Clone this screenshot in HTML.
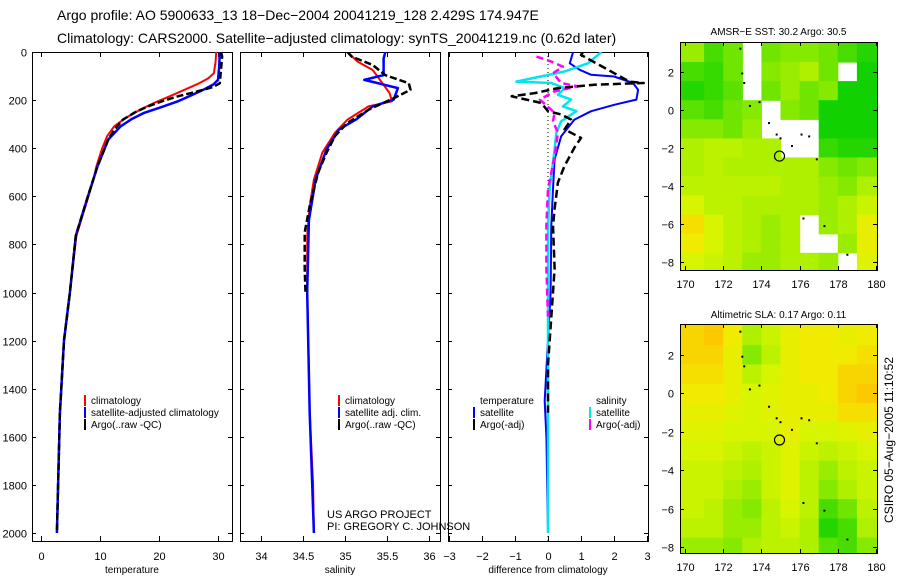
<!DOCTYPE html>
<html><head><meta charset="utf-8"><style>
body{margin:0;background:#fff;}
svg{display:block;font-family:"Liberation Sans",sans-serif;}
</style></head><body>
<svg id="fig" width="900" height="580" viewBox="0 0 900 580" xmlns="http://www.w3.org/2000/svg">
<text x="57" y="20" font-size="14">Argo profile: AO 5900633_13 18−Dec−2004 20041219_128 2.429S 174.947E</text>
<text x="57" y="43" font-size="14">Climatology: CARS2000. Satellite−adjusted climatology: synTS_20041219.nc (0.62d later)</text>
<text x="327" y="518" font-size="11">US ARGO PROJECT</text>
<text x="327" y="530" font-size="11">PI: GREGORY C. JOHNSON</text>
<text x="0" y="0" font-size="12" transform="translate(893,440) rotate(-90)" text-anchor="middle">CSIRO 05−Aug−2005 11:10:52</text>
</svg>
<script>
// ---- profile data ----
const tempClimDepth=[0,40,88,110,130,155,184,210,240,275,309,350,405,474,530,612,764,1000,1200,1500,1800,2000];
const tempClim=[29.7,29.6,29.3,28.3,26.8,24.5,21.8,19.3,16.8,14.3,12.4,11.2,10.3,9.4,8.9,7.9,6.0,4.9,3.9,3.2,2.9,2.7];
const tempSatDepth=[0,60,116,135,157,180,205,230,253,280,309,364,474,612,764,1000,1200,1500,1800,2000];
const tempSat=[30.3,30.2,30.0,29.2,27.5,25.5,23.2,20.3,17.5,15.3,13.5,11.4,9.6,7.8,5.9,4.9,3.9,3.2,2.9,2.7];
const tempArgoDepth=[0,19,130,145,157,170,184,205,226,250,281,320,364,474,612,764,1000,1200,1500,1800,2000];
const tempArgo=[30.5,30.7,30.3,29.2,27.5,25.5,23.2,20.5,18.1,16.0,13.9,12.5,11.4,9.6,7.8,5.9,4.9,3.9,3.2,2.9,2.7];

const salClimDepth=[0,40,75,170,205,226,281,336,419,530,640,764,1000,1500,1800,2000];
const salClim=[35.03,35.15,35.33,35.53,35.56,35.28,35.03,34.88,34.73,34.63,34.58,34.55,34.55,34.58,34.62,34.63];
const salSatDepth=[0,28,96,116,150,198,226,281,322,405,530,700,1000,1500,2000];
const salSat=[35.48,35.46,35.46,35.23,35.63,35.58,35.33,35.13,34.93,34.78,34.65,34.57,34.55,34.58,34.63];
const salArgoDepth=[0,19,54,96,130,157,192,240,295,350,419,502,640,750,900,1000];
const salArgo=[35.03,35.08,35.33,35.48,35.76,35.78,35.58,35.28,35.03,34.88,34.78,34.68,34.58,34.52,34.52,34.53];

const dTSatDepth=[0,47,74,95,102,129,157,198,219,246,281,350,446,570,722,1000,1200,1450,1600,2000];
const dTSat=[0.76,0.66,0.96,1.31,2.0,2.58,2.73,2.68,2.02,1.31,0.8,0.4,0.2,0.15,0.1,0.08,0.0,-0.1,-0.05,0.0];
const dTArgoDepth=[0,12,123,129,136,150,171,184,212,246,260,281,322,357,398,474,543,653,722,900,1000,1300,1500];
const dTArgo=[1.06,1.0,2.47,2.9,1.41,0.3,-0.4,-1.1,-0.2,0.0,0.4,0.7,0.5,1.0,0.8,0.5,0.3,0.2,0.15,0.2,0.15,0.0,0.0];
const dSSatDepth=[0,47,81,123,129,150,178,198,226,246,288,336,405,570,735,2000];
const dSSat=[1.62,1.21,0.5,-0.96,0.1,0.5,0.3,0.7,0.45,0.86,0.4,0.25,0.2,0.05,0.0,0.0];
const dSArgoDepth=[19,40,61,88,129,143,164,198,253,288,336,433,570,722,900,1100];
const dSArgo=[-0.35,0.1,0.45,0.15,0.4,0.9,0.2,-0.25,0.2,0.15,0.3,0.2,0.0,-0.05,-0.05,0.0];

const depthTicks=[0,200,400,600,800,1000,1200,1400,1600,1800,2000];
const tempTicks=[0,10,20,30];
const salTicks=[34,34.5,35,35.5,36];
const salTickLabels=["34","34.5","35","35.5","36"];
const diffTicks=[-3,-2,-1,0,1,2,3];

// ---- map data (rows from north to south, 1 degree cells, lon 170..180) ----
const sstGrid=[
[0.4,0.2,0.3,null,0.3,0.35,0.35,0.3,0.2,0.1],
[0.2,0.15,0.3,null,0.35,0.4,0.45,0.3,null,0.05],
[0.1,0.15,0.25,null,0.3,0.4,0.3,0.35,0.05,0.05],
[0.25,0.2,0.3,0.35,null,0.35,0.3,0.05,0.05,0.05],
[0.35,0.35,0.3,0.4,null,null,null,0.05,0.05,0.05],
[0.45,0.5,0.5,0.45,0.45,null,null,0.15,0.1,0.1],
[0.45,0.5,0.45,0.45,0.45,0.45,0.45,0.35,0.3,0.35],
[0.5,0.5,0.5,0.5,0.5,0.45,0.45,0.4,0.35,0.45],
[0.6,0.5,0.5,0.45,0.45,0.45,0.45,0.4,0.45,0.55],
[0.8,0.6,0.5,0.45,0.4,0.45,null,0.4,0.45,0.7],
[0.75,0.6,0.5,0.45,0.4,0.45,null,null,0.4,0.7],
[0.6,0.55,0.5,0.4,0.4,0.45,0.45,0.4,null,0.65]];
const slaGrid=[
[0.85,0.9,0.75,0.45,0.55,0.7,0.75,0.75,0.7,0.75],
[0.85,0.85,0.7,0.35,0.5,0.7,0.75,0.75,0.75,0.8],
[0.8,0.8,0.7,0.5,0.6,0.7,0.75,0.75,0.85,0.85],
[0.75,0.75,0.7,0.6,0.65,0.7,0.7,0.75,0.85,0.9],
[0.7,0.7,0.65,0.6,0.65,0.7,0.7,0.7,0.8,0.8],
[0.65,0.65,0.6,0.6,0.6,0.7,0.6,0.6,0.65,0.7],
[0.6,0.6,0.55,0.5,0.55,0.65,0.55,0.5,0.55,0.6],
[0.55,0.55,0.5,0.45,0.55,0.65,0.5,0.4,0.5,0.55],
[0.55,0.55,0.45,0.4,0.55,0.65,0.5,0.35,0.45,0.55],
[0.55,0.5,0.4,0.35,0.5,0.6,0.5,0.2,0.3,0.5],
[0.5,0.5,0.4,0.4,0.5,0.55,0.45,0.1,0.2,0.45],
[0.4,0.4,0.35,0.45,0.5,0.5,0.45,0.25,0.2,0.35]];
const latTicks=[2,0,-2,-4,-6,-8];
const lonTicks=[170,172,174,176,178,180];
const argoLon=174.947, argoLat=-2.429;
const islandLon=[172.9,173.0,173.1,173.4,173.9,174.4,174.8,175.0,175.6,176.1,176.5,176.9,176.2,177.3,178.5];
const islandLat=[3.2,1.9,1.4,0.2,0.4,-0.7,-1.3,-1.5,-1.9,-1.3,-1.4,-2.6,-5.7,-6.1,-7.6];

const NS="http://www.w3.org/2000/svg";
const svg=document.getElementById('fig');
function mk(tag,attrs,parent){const e=document.createElementNS(NS,tag);for(const k in attrs)e.setAttribute(k,attrs[k]);(parent||svg).appendChild(e);return e;}

const Y0=52,Y1=541;
function yD(d){return 52+0.2405*d;}

function panel(name,x0,x1,xs,xticks,xlabels,xtitle,showY){
  const g=mk('g',{});
  
  
  const clip=mk('clipPath',{id:'clip-'+name},g);
  mk('rect',{x:x0,y:Y0,width:x1-x0,height:Y1-Y0},clip);
  const fr=mk('rect',{x:x0+0.5,y:Y0+0.5,width:x1-x0,height:Y1-Y0,fill:'none',stroke:'#000','stroke-width':1},g);
  
  
  depthTicks.forEach(d=>{const y=Math.round(yD(d))+0.5;
    mk('line',{x1:x0,x2:x0+4,y1:y,y2:y,stroke:'#000'},g);mk('line',{x1:x1-4,x2:x1,y1:y,y2:y,stroke:'#000'},g);
    if(showY){const t=mk('text',{x:x0-5,y:y+4,'font-size':11,'text-anchor':'end'},g);t.textContent=d;
      
      }
  });
  xticks.forEach((v,i)=>{const x=Math.round(xs(v))+0.5;
    mk('line',{x1:x,x2:x,y1:Y0,y2:Y0+5,stroke:'#000'},g);mk('line',{x1:x,x2:x,y1:Y1-5,y2:Y1,stroke:'#000'},g);
    const t=mk('text',{x:x,y:560,'font-size':11,'text-anchor':'middle'},g);t.textContent=xlabels[i];
    
    
  });
  const tt=mk('text',{x:(x0+x1)/2,y:573,'font-size':10,'text-anchor':'middle'},g);tt.textContent=xtitle;
  
  
  return g;
}
function series(g,name,clipId,xs,depths,vals,color,w,dash){
  const pts=depths.map((d,i)=>xs(vals[i]).toFixed(1)+','+yD(d).toFixed(1)).join(' ');
  const p=mk('polyline',{points:pts,fill:'none',stroke:color,'stroke-width':w,'stroke-linejoin':'round','clip-path':'url(#'+clipId+')'},g);
  if(dash)p.setAttribute('stroke-dasharray',dash);
  
  
}
function legend(g,x,y,entries){
  entries.forEach((e,i)=>{const yy=y+i*12;
    mk('line',{x1:x,x2:x,y1:yy-9,y2:yy+2,stroke:e[1],'stroke-width':2},g);
    const t=mk('text',{x:x+6,y:yy,'font-size':10},g);t.textContent=e[0];
    
    
  });
}

// temperature panel
const xT=v=>41+5.9*v;
const g1=panel('temperature-panel',32,232,xT,tempTicks,tempTicks.map(String),'temperature',true);
series(g1,'temp-climatology-line','clip-temperature-panel',xT,tempClimDepth,tempClim,'#ff0000',2);
series(g1,'temp-satellite-line','clip-temperature-panel',xT,tempSatDepth,tempSat,'#0000ff',2.5);
series(g1,'temp-argo-line','clip-temperature-panel',xT,tempArgoDepth,tempArgo,'#000',2.5,'7,3');
legend(g1,85,404,[['climatology','#ff0000'],['satellite-adjusted climatology','#0000ff'],['Argo(..raw -QC)','#000']]);

// salinity panel
const xS=v=>261+84*(v-34);
const g2=panel('salinity-panel',240,440,xS,salTicks,salTickLabels,'salinity',false);
series(g2,'sal-climatology-line','clip-salinity-panel',xS,salClimDepth,salClim,'#ff0000',2);
series(g2,'sal-satellite-line','clip-salinity-panel',xS,salSatDepth,salSat,'#0000ff',2.5);
series(g2,'sal-argo-line','clip-salinity-panel',xS,salArgoDepth,salArgo,'#000',2.5,'7,3');
legend(g2,339,404,[['climatology','#ff0000'],['satellite adj. clim.','#0000ff'],['Argo(..raw -QC)','#000']]);

// difference panel
const xD=v=>548+33*v;
const g3=panel('difference-panel',448,648,xD,diffTicks,diffTicks.map(v=>v<0?'−'+(-v):String(v)),'difference from climatology',false);
const zl=mk('line',{x1:548,x2:548,y1:Y0,y2:Y1,stroke:'#000','stroke-dasharray':'1,3'},g3);


series(g3,'diff-temp-satellite-line','clip-difference-panel',xD,dTSatDepth,dTSat,'#0000ff',2);
series(g3,'diff-sal-satellite-line','clip-difference-panel',xD,dSSatDepth,dSSat,'#00e5ee',2.5);
series(g3,'diff-sal-argo-line','clip-difference-panel',xD,dSArgoDepth,dSArgo,'#ff00ff',2.5,'7,4');
series(g3,'diff-temp-argo-line','clip-difference-panel',xD,dTArgoDepth,dTArgo,'#000',2.5,'8,4');
const lt=mk('text',{x:480,y:404,'font-size':10},g3);lt.textContent='temperature';


const ls=mk('text',{x:596,y:404,'font-size':10},g3);ls.textContent='salinity';


legend(g3,474,416,[['satellite','#0000ff'],['Argo(-adj)','#000']]);
legend(g3,590,416,[['satellite','#00e5ee'],['Argo(-adj)','#ff00ff']]);

// maps
function col(v){
  const stops=[[0,[0,205,0]],[0.25,[90,225,0]],[0.45,[175,240,0]],[0.6,[215,245,0]],[0.75,[240,235,0]],[0.9,[252,200,0]],[1,[255,175,0]]];
  for(let i=1;i<stops.length;i++){if(v<=stops[i][0]){const a=stops[i-1],b=stops[i],t=(v-a[0])/(b[0]-a[0]);
    return 'rgb('+a[1].map((c,k)=>Math.round(c+(b[1][k]-c)*t)).join(',')+')';}}
  return 'rgb(255,175,0)';
}
function map(name,top,bottom,latTop,latBot,grid,title,titleY,labelY){
  const g=mk('g',{});
  
  
  const L=680,R=877,lonL=169.74,lonR=180.05;
  const xs=lo=>L+(lo-lonL)/(lonR-lonL)*(R-L);
  const ys=la=>top+(latTop-la)/(latTop-latBot)*(bottom-top);
  grid.forEach((row,i)=>row.forEach((v,j)=>{
    if(v===null)return;
    const lo0=j===0?lonL:170+j, lo1=j===9?lonR:171+j;
    const la0=i===0?latTop:3.5-i, la1=i===11?latBot:2.5-i;
    const r=mk('rect',{x:xs(lo0).toFixed(1),y:ys(la0).toFixed(1),width:(xs(lo1)-xs(lo0)+0.6).toFixed(1),height:(ys(la1)-ys(la0)+0.6).toFixed(1),fill:col(v)},g);
    
    
  }));
  islandLon.forEach((lo,i)=>{const d=mk('rect',{x:xs(lo)-1,y:ys(islandLat[i])-1,width:2,height:2,fill:'#000'},g);
    
    });
  const c=mk('circle',{cx:xs(argoLon),cy:ys(argoLat),r:5,fill:'none',stroke:'#000','stroke-width':1.2},g);
  
  
  mk('rect',{x:L+0.5,y:top+0.5,width:R-L,height:bottom-top,fill:'none',stroke:'#000'},g);
  latTicks.forEach(la=>{const y=Math.round(ys(la))+0.5;
    mk('line',{x1:L,x2:L+4,y1:y,y2:y,stroke:'#000'},g);mk('line',{x1:R-4,x2:R,y1:y,y2:y,stroke:'#000'},g);
    const t=mk('text',{x:L-6,y:y+4,'font-size':11,'text-anchor':'end'},g);t.textContent=la<0?'−'+(-la):la;
    
    });
  lonTicks.forEach(lo=>{const x=Math.round(xs(lo))+0.5;
    mk('line',{x1:x,x2:x,y1:top,y2:top+4,stroke:'#000'},g);mk('line',{x1:x,x2:x,y1:bottom-4,y2:bottom,stroke:'#000'},g);
    const t=mk('text',{x:x,y:labelY,'font-size':11,'text-anchor':'middle'},g);t.textContent=lo;
    
    });
  const tt=mk('text',{x:(L+R)/2,y:titleY,'font-size':10,'text-anchor':'middle'},g);tt.textContent=title;
  
  
}
map('sst-map',42,270,3.55,-8.4,sstGrid,'AMSR−E SST: 30.2 Argo: 30.5',35,288);
map('sla-map',324,553,3.6,-8.3,slaGrid,'Altimetric SLA: 0.17 Argo: 0.11',318,571);
</script>
</body></html>
